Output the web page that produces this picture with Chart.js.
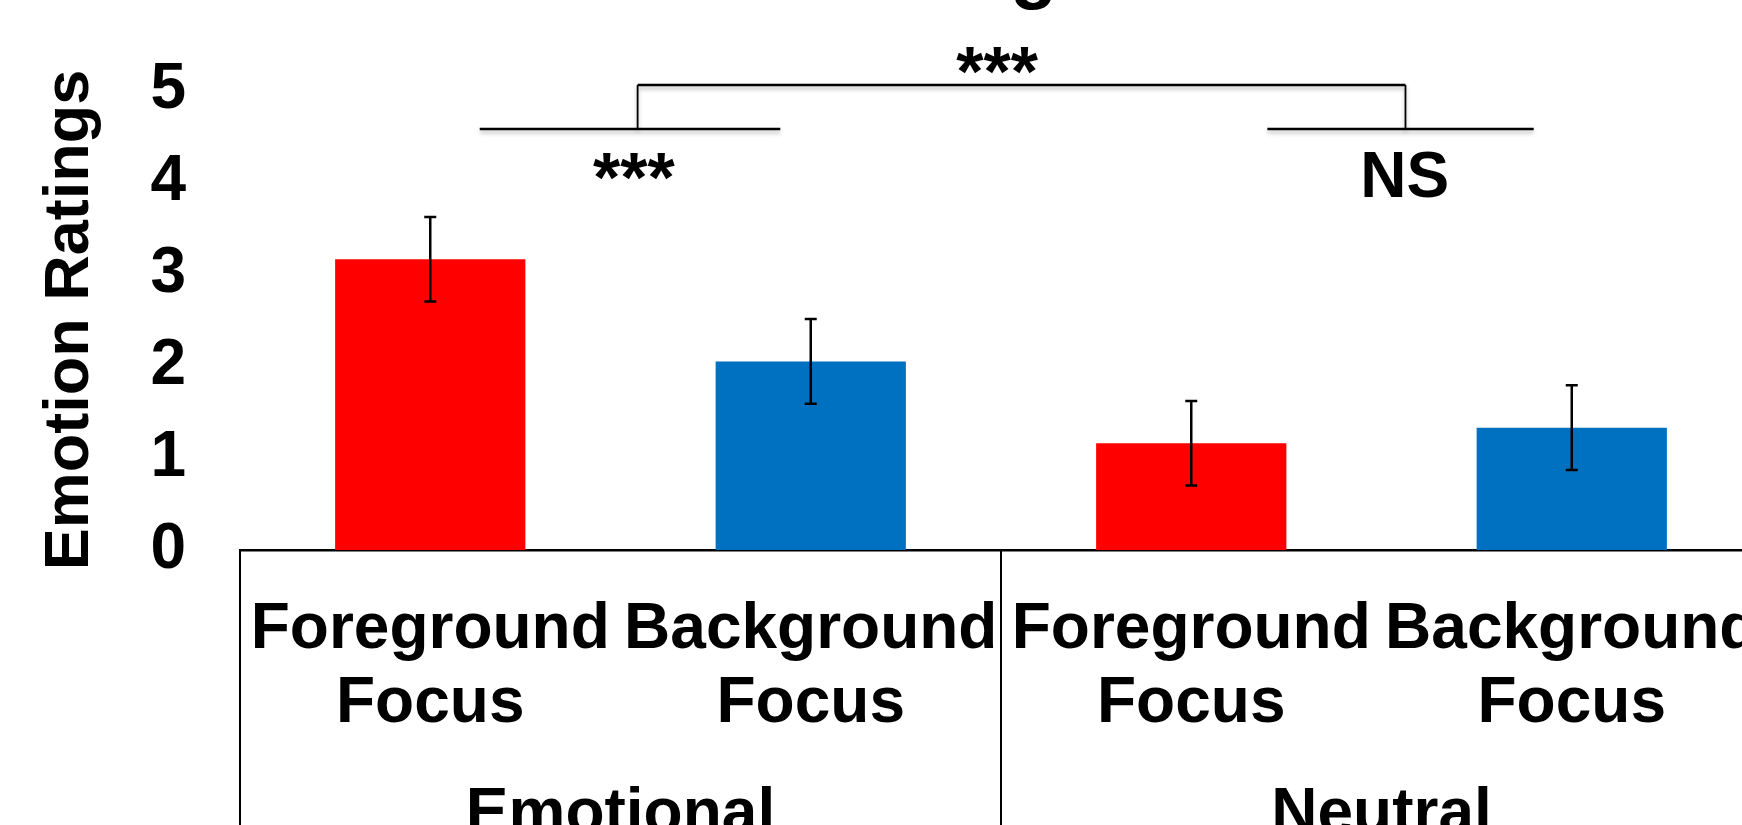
<!DOCTYPE html>
<html>
<head>
<meta charset="utf-8">
<script src="https://cdn.jsdelivr.net/npm/chart.js@4"></script>
<style>
  html, body { margin: 0; padding: 0; background: #fff; overflow: hidden; width: 1742px; height: 825px; }
  #wrap { position: absolute; left: 0; top: -100px; width: 1918px; height: 997px; }
</style>
</head>
<body>
<div id="wrap"><canvas id="c" width="1918" height="997"></canvas></div>
<script>
// Condition labels (two-line) and their stimulus groups
const categories = [['Foreground', 'Focus'], ['Background', 'Focus'], ['Foreground', 'Focus'], ['Background', 'Focus']];
const groups = ['Emotional', 'Neutral'];

// Mean emotion ratings and their error margins
const ratings = [3.16, 2.05, 1.16, 1.33];
const errors = [0.46, 0.46, 0.46, 0.46];

// Y-axis tick values
const yTicks = [0, 1, 2, 3, 4, 5];

// Chart heading
const heading = 'Ratings';

// Significance markers (x in category units, y in rating units)
const pairLines = [[0.13, 0.92], [2.20, 2.90]];
const pairLineLevel = 4.575;
const bridge = { from: 0.545, to: 2.563, level: 5.054 };
const sigLabels = [
  { text: '***', at: 0.535, level: 3.785, size: 70 },
  { text: 'NS', at: 2.561, level: 3.84, size: 64 },
  { text: '***', at: 1.49, level: 4.93, size: 70 }
];

const FONT = '"Liberation Sans", Arial, Helvetica, sans-serif';
const barColors = ['#FF0000', '#0070C0', '#FF0000', '#0070C0'];

function catX(xs, u) {
  const p0 = xs.getPixelForValue(0);
  const p1 = xs.getPixelForValue(1);
  return p0 + u * (p1 - p0);
}

// Heading above the plot, set slightly left of the plot centre
const headingPlugin = {
  id: 'heading',
  afterDraw(chart) {
    const ctx = chart.ctx;
    const area = chart.chartArea;
    ctx.save();
    ctx.fillStyle = '#000';
    ctx.font = 'bold 77px ' + FONT;
    ctx.textAlign = 'center';
    ctx.textBaseline = 'alphabetic';
    ctx.fillText(heading, (area.left + area.right) / 2 - 42, area.top - 96);
    ctx.restore();
  }
};

const errorBars = {
  id: 'errorBars',
  afterDatasetsDraw(chart) {
    const ctx = chart.ctx;
    const xs = chart.scales.x, ys = chart.scales.y;
    ctx.save();
    ctx.strokeStyle = '#000';
    ctx.lineWidth = 2.5;
    ratings.forEach((v, i) => {
      const x = xs.getPixelForValue(i);
      const top = ys.getPixelForValue(v + errors[i]);
      const bot = ys.getPixelForValue(v - errors[i]);
      ctx.beginPath();
      ctx.moveTo(x, top); ctx.lineTo(x, bot);
      ctx.moveTo(x - 6, top); ctx.lineTo(x + 6, top);
      ctx.moveTo(x - 6, bot); ctx.lineTo(x + 6, bot);
      ctx.stroke();
    });
    ctx.restore();
  }
};

const decorations = {
  id: 'decorations',
  afterDraw(chart) {
    const ctx = chart.ctx;
    const xs = chart.scales.x, ys = chart.scales.y;
    const area = chart.chartArea;

    // category separators below the axis
    ctx.save();
    ctx.strokeStyle = '#000';
    ctx.lineWidth = 2;
    const mid = (xs.getPixelForValue(1) + xs.getPixelForValue(2)) / 2;
    [area.left, mid, area.right].forEach(x => {
      ctx.beginPath();
      ctx.moveTo(x, area.bottom);
      ctx.lineTo(x, chart.height);
      ctx.stroke();
    });
    ctx.restore();

    // comparison brackets
    ctx.save();
    ctx.strokeStyle = '#000';
    ctx.shadowColor = 'rgba(0,0,0,0.28)';
    ctx.shadowBlur = 4;
    ctx.shadowOffsetY = 3;
    const yLow = ys.getPixelForValue(pairLineLevel);
    const yTop = ys.getPixelForValue(bridge.level);
    ctx.lineWidth = 2.5;
    pairLines.forEach(([a, b]) => {
      ctx.beginPath();
      ctx.moveTo(catX(xs, a), yLow);
      ctx.lineTo(catX(xs, b), yLow);
      ctx.stroke();
    });
    ctx.beginPath();
    ctx.moveTo(catX(xs, bridge.from), yTop);
    ctx.lineTo(catX(xs, bridge.to), yTop);
    ctx.stroke();
    ctx.lineWidth = 1.8;
    ctx.beginPath();
    ctx.moveTo(catX(xs, bridge.from), yLow);
    ctx.lineTo(catX(xs, bridge.from), yTop);
    ctx.moveTo(catX(xs, bridge.to), yLow);
    ctx.lineTo(catX(xs, bridge.to), yTop);
    ctx.stroke();
    ctx.restore();

    // significance labels
    ctx.save();
    ctx.fillStyle = '#000';
    ctx.textAlign = 'center';
    ctx.textBaseline = 'alphabetic';
    sigLabels.forEach(l => {
      ctx.font = 'bold ' + l.size + 'px ' + FONT;
      ctx.fillText(l.text, catX(xs, l.at), ys.getPixelForValue(l.level));
    });
    ctx.restore();
  }
};

new Chart(document.getElementById('c'), {
  type: 'bar',
  data: {
    labels: categories,
    datasets: [{
      data: ratings,
      backgroundColor: barColors,
      borderWidth: 0,
      barPercentage: 1.0,
      categoryPercentage: 0.5
    }]
  },
  options: {
    responsive: false,
    animation: false,
    devicePixelRatio: 1,
    layout: { padding: { top: 190, left: 33, right: 156, bottom: 0 } },
    plugins: {
      legend: { display: false },
      tooltip: { enabled: false },
      title: { display: false }
    },
    scales: {
      x: {
        type: 'category',
        position: 'bottom',
        offset: true,
        weight: 0,
        grid: { display: false, drawTicks: false },
        border: { display: true, color: '#000', width: 2.5 },
        ticks: {
          color: '#000',
          font: { family: FONT, size: 64, weight: 'bold', lineHeight: 1.15 },
          padding: 44,
          maxRotation: 0,
          minRotation: 0,
          autoSkip: false
        },
        afterFit: s => { s.height = 229; }
      },
      x2: {
        type: 'category',
        labels: groups,
        position: 'bottom',
        offset: true,
        weight: 1,
        grid: { display: false, drawTicks: false },
        border: { display: false },
        ticks: {
          color: '#000',
          font: { family: FONT, size: 64, weight: 'bold', lineHeight: 1.15 },
          padding: 0,
          maxRotation: 0,
          minRotation: 0,
          autoSkip: false
        },
        afterFit: s => { s.height = 118; }
      },
      y: {
        min: 0,
        max: 5,
        grid: { display: false, drawTicks: false },
        border: { display: false },
        afterBuildTicks: s => { s.ticks = yTicks.map(v => ({ value: v })); },
        ticks: {
          color: '#000',
          font: { family: FONT, size: 64, weight: 'bold' },
          padding: 54
        },
        title: {
          display: true,
          text: 'Emotion Ratings',
          color: '#000',
          font: { family: FONT, size: 63, weight: 'bold' },
          padding: 0
        },
        afterFit: s => { s.width = 207; }
      }
    }
  },
  plugins: [errorBars, decorations, headingPlugin]
});
</script>
</body>
</html>
